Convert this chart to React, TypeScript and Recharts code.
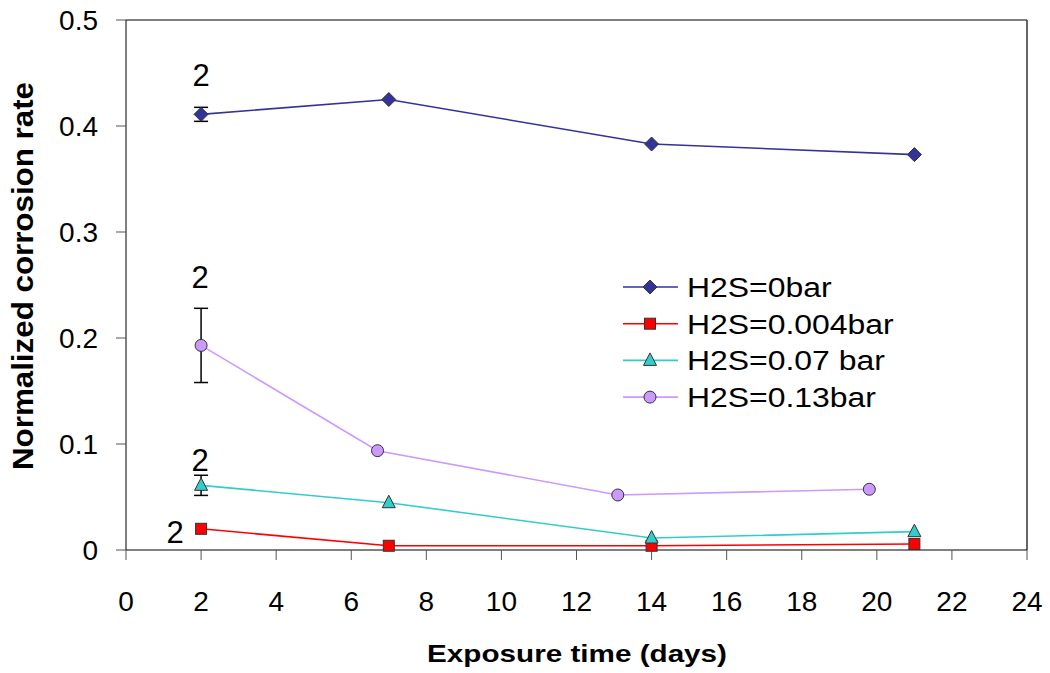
import { LineChart, Line, XAxis, YAxis, ErrorBar, ReferenceLine } from 'recharts';

// exposure days for each series
const days = [2, 7, 14, 21];
const days013 = [2, 6.7, 13.1, 19.8];

// normalized corrosion rate per H2S partial pressure
const rate0 = [0.411, 0.425, 0.383, 0.373];
const rate004 = [0.02, 0.004, 0.004, 0.0057];
const rate007 = [0.061, 0.0446, 0.0113, 0.0173];
const rate013 = [0.193, 0.0937, 0.0519, 0.0573];

// error (+/-) on the first point only
const err0 = [0.0066, null, null, null];
const err004 = [null, null, null, null];
const err007 = [0.0095, null, null, null];
const err013 = [0.035, null, null, null];

// number of replicates written next to a point
const reps0 = [2, null, null, null];
const reps004 = [2, null, null, null];
const reps007 = [2, null, null, null];
const reps013 = [2, null, null, null];

const xTicks = [0, 2, 4, 6, 8, 10, 12, 14, 16, 18, 20, 22, 24];
const yTicks = [0, 0.1, 0.2, 0.3, 0.4, 0.5];

const FONT = '"Liberation Sans", Arial, sans-serif';

type Shape = 'diamond' | 'square' | 'triangle' | 'circle';

const series = [
  { name: 'H2S=0bar', x: days, y: rate0, err: err0, reps: reps0, color: '#333399', fill: '#333399', shape: 'diamond' as Shape, lbl: { dx: 0, dy: -28 } },
  { name: 'H2S=0.004bar', x: days, y: rate004, err: err004, reps: reps004, color: '#FF0000', fill: '#FF0000', shape: 'square' as Shape, lbl: { dx: -26, dy: 14 } },
  { name: 'H2S=0.07 bar', x: days, y: rate007, err: err007, reps: reps007, color: '#33CCCC', fill: '#33CCCC', shape: 'triangle' as Shape, lbl: { dx: -1, dy: -14 } },
  { name: 'H2S=0.13bar', x: days013, y: rate013, err: err013, reps: reps013, color: '#CC99FF', fill: '#CC99FF', shape: 'circle' as Shape, lbl: { dx: -1, dy: -57 } },
];

function Marker({ cx, cy, shape, fill }: { cx: number; cy: number; shape: Shape; fill: string }) {
  const st = { fill, stroke: '#333', strokeWidth: 1 };
  if (shape === 'diamond')
    return <polygon points={`${cx},${cy - 7} ${cx + 7},${cy} ${cx},${cy + 7} ${cx - 7},${cy}`} {...st} />;
  if (shape === 'square') return <rect x={cx - 5.5} y={cy - 5.5} width={11} height={11} {...st} />;
  if (shape === 'triangle')
    return <polygon points={`${cx},${cy - 7.5} ${cx + 6.5},${cy + 5} ${cx - 6.5},${cy + 5}`} {...st} />;
  return <circle cx={cx} cy={cy} r={6} {...st} />;
}

export default function App() {
  return (
    <div style={{ position: 'absolute', left: 0, top: 0, width: 1050, height: 673, background: '#fff', fontFamily: FONT }}>
      <LineChart width={1050} height={673} margin={{ top: 20, right: 23, bottom: 0, left: 0 }}>
        <XAxis
          dataKey="day"
          type="number"
          domain={[0, 24]}
          ticks={xTicks}
          allowDataOverflow
          height={123}
          tickSize={10}
          tickMargin={31}
          axisLine={{ stroke: '#000' }}
          tickLine={{ stroke: '#555' }}
          tick={{ fill: '#000', fontSize: 28, fontFamily: FONT }}
        />
        <YAxis
          type="number"
          domain={[0, 0.5]}
          ticks={yTicks}
          width={126}
          tickSize={10}
          tickMargin={18}
          axisLine={{ stroke: '#000' }}
          tickLine={{ stroke: '#555' }}
          tick={{ fill: '#000', fontSize: 28, fontFamily: FONT }}
        />
        <ReferenceLine y={0.5} stroke="#555" strokeWidth={1.5} />
        <ReferenceLine x={24} stroke="#333" strokeWidth={1.5} />
        {series.map((s) => (
          <Line
            key={s.name}
            data={s.x.map((d, i) => ({ day: d, rate: s.y[i], err: s.err[i], n: s.reps[i] }))}
            dataKey="rate"
            name={s.name}
            stroke={s.color}
            strokeWidth={1.6}
            isAnimationActive={false}
            dot={(p: any) => <Marker key={`${s.name}-${p.index}`} cx={p.cx} cy={p.cy} shape={s.shape} fill={s.fill} />}
            activeDot={false}
            label={(p: any) =>
              s.reps[p.index] != null ? (
                <text
                  key={`${s.name}-l${p.index}`}
                  x={p.x + s.lbl.dx}
                  y={p.y + s.lbl.dy}
                  textAnchor="middle"
                  fontSize={31}
                  fontFamily={FONT}
                  fill="#000"
                >
                  {s.reps[p.index]}
                </text>
              ) : (
                <g key={`${s.name}-l${p.index}`} />
              )
            }
          >
            <ErrorBar dataKey="err" width={7} stroke="#000" strokeWidth={1.5} direction="y" isAnimationActive={false} />
          </Line>
        ))}
      </LineChart>
      <svg width={1050} height={673} style={{ position: 'absolute', left: 0, top: 0, pointerEvents: 'none' }}>
        <text
          x={427}
          y={662}
          fontSize={24}
          fontWeight={700}
          fontFamily={FONT}
          fill="#000"
          textLength={300}
          lengthAdjust="spacingAndGlyphs"
        >
          Exposure time (days)
        </text>
        <text
          x={33}
          y={470}
          fontSize={29}
          fontWeight={700}
          fontFamily={FONT}
          fill="#000"
          textLength={388}
          lengthAdjust="spacingAndGlyphs"
          transform="rotate(-90 33 470)"
        >
          Normalized corrosion rate
        </text>
        {series.map((s, i) => {
          const cy = 287 + i * 36.7;
          return (
            <g key={s.name}>
              <line x1={623} x2={678} y1={cy} y2={cy} stroke={s.color} strokeWidth={1.6} />
              <Marker cx={650} cy={cy} shape={s.shape} fill={s.fill} />
              <text transform={`translate(687 ${cy + 10}) scale(1.14 1)`} fontSize={28} fontFamily={FONT} fill="#000">
                {s.name}
              </text>
            </g>
          );
        })}
      </svg>
    </div>
  );
}
